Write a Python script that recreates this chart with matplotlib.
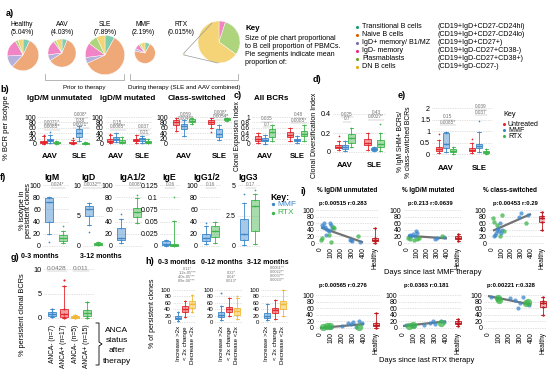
import matplotlib
matplotlib.use("Agg")
import matplotlib.pyplot as plt
from matplotlib.colors import to_rgba
from matplotlib.patches import Wedge

plt.rcParams["font.family"] = ["Liberation Sans", "DejaVu Sans"]

W, H = 553, 377

# ---------------------------------------------------------------------------
# Data
# ---------------------------------------------------------------------------

CELL_TYPES = ["Transitional B cells", "Naive B cells", "IgD+ memory/ B1/MZ",
              "IgD- memory", "Plasmablasts", "DN B cells"]
CELL_MARKERS = ["(CD19+IgD+CD27-CD24hi)", "(CD19+IgD+CD27-CD24lo)", "(CD19+IgD+CD27+)",
                "(CD19+IgD-CD27+CD38-)", "(CD19+IgD-CD27+CD38+)", "(CD19+IgD-CD27-)"]
PIE_NAMES = ["Healthy", "AAV", "SLE", "MMF", "RTX"]
PIE_PCT = ["5.04", "4.03", "7.89", "2.19", "0.015"]
PIE_HEALTHY = [7, 55, 12, 18, 3, 5]
PIE_AAV = [6, 60, 7, 17, 3, 7]
PIE_SLE = [8, 60, 5, 12, 8, 7]
PIE_MMF = [8, 70, 4, 8, 3, 7]
PIE_RTX = [0, 0, 0, 5, 30, 65]

GROUPS = ["AAV", "SLE"]
TREATMENTS = ["Untreated", "MMF", "RTX"]

# box stats (low whisker, q1, median, q3, high whisker): Untreated, MMF, RTX
UNMUT_AAV = [(0, 3, 7, 12, 30), (2, 10, 15, 20, 35), (0, 2, 4, 6, 10)]
UNMUT_SLE = [(0, 2, 5, 9, 15), (10, 25, 42, 55, 68), (0, 1, 2, 4, 6)]
UNMUT_OUT = [[[35], [45], []], [[22], [], []]]
UNMUT_P = [["0.0071*", "0.0085*"], ["0.008*", "0.38", "0.0021*"]]

MUT_AAV = [(3, 8, 12, 18, 35), (8, 15, 20, 25, 42), (2, 5, 9, 14, 25)]
MUT_SLE = [(5, 10, 14, 20, 35), (5, 12, 18, 22, 30), (2, 5, 8, 12, 18)]
MUT_OUT = [[[38], [], []], [[], [], []]]
MUT_P = [["0.15", "0.0065*"], ["0.037", "0.21"]]

CS_AAV = [(50, 72, 80, 88, 98), (30, 55, 65, 75, 88), (75, 82, 87, 92, 98)]
CS_SLE = [(60, 75, 82, 88, 95), (15, 25, 38, 55, 70), (85, 88, 92, 95, 98)]
CS_OUT = [[[], [], []], [[45], [], []]]
CS_P = [["0.059", "0.0046*"], ["0.008*", "0.0054*"]]

CEI_AAV = [(0.05, 0.12, 0.2, 0.28, 0.4), (0.0, 0.1, 0.15, 0.22, 0.35), (0.1, 0.25, 0.45, 0.55, 0.7)]
CEI_SLE = [(0.1, 0.25, 0.35, 0.45, 0.6), (0.05, 0.1, 0.15, 0.2, 0.3), (0.1, 0.28, 0.38, 0.5, 0.7)]
CEI_OUT = [[[], [], []], [[], [], []]]
CEI_P = [["0.035", "0.7"], ["0.48", "0.0085*"]]

CDI_AAV = [(0.02, 0.04, 0.05, 0.07, 0.12), (0.01, 0.03, 0.05, 0.07, 0.12), (0.05, 0.1, 0.15, 0.19, 0.25)]
CDI_SLE = [(0.02, 0.07, 0.1, 0.14, 0.2), (0.01, 0.02, 0.03, 0.04, 0.05), (0.01, 0.05, 0.08, 0.13, 0.2)]
CDI_OUT = [[[0.17], [], []], [[], [], [0.29]]]
CDI_P = [["0.025", "0.7"], ["0.43", "0.0027*"]]

RATIO_AAV = [(0.05, 0.12, 0.2, 0.3, 0.6), (0.1, 0.25, 0.45, 0.9, 0.95), (0.02, 0.08, 0.12, 0.2, 0.3)]
RATIO_SLE = [(0.05, 0.12, 0.18, 0.25, 0.5), (0.1, 0.25, 0.35, 0.45, 0.95), (0.0, 0.05, 0.08, 0.12, 0.2)]
RATIO_OUT = [[[0.85], [], []], [[0.65], [1.45], []]]
RATIO_P = [["0.15", "0.0085*"], ["0.039", "0.037"]]

F_TITLES = ["IgM", "IgD", "IgA1/2", "IgE", "IgG1/2", "IgG3"]
F_MMF = [(20, 40, 72, 78, 80), (3.5, 5, 6, 6.5, 7), (5, 10, 13, 30, 45),
         (0, 0.002, 0.005, 0.01, 0.012), (3, 8, 13, 20, 32), (0.1, 0.5, 1, 2.2, 3.5)]
F_RTX = [(5, 8, 13, 18, 25), (0.1, 0.2, 0.3, 0.45, 0.6), (38, 48, 55, 62, 78),
         (0, 0.001, 0.003, 0.005, 0.052), (5, 15, 24, 33, 40), (0.2, 1.2, 3.3, 3.8, 4.3)]
F_MMF_OUT = [[7], [2.3], [52], [], [38], [4.3]]
F_RTX_OUT = [[32], [], [83], [0.1], [], [4.6]]
F_P = ["0.024*", "0.0032**", "0.008*", "0.26", "0.16", "0.17"]
F_YTICKS = [[0, 20, 40, 60, 80, 100], [0, 5, 10], [0, 20, 40, 60, 80, 100],
            [0, 0.025, 0.05, 0.075, 0.1, 0.125], [0, 20, 40, 60, 80, 100], [0, 2.5, 5]]

G_PERIODS = ["0-3 months", "3-12 months"]
G_LABELS = ["ANCA- (n=7)", "ANCA+ (n=17)", "ANCA- (n=5)", "ANCA+ (n=15)"]
G_STATS = [(0.2, 0.5, 0.8, 1.2, 1.8), (0, 0.3, 0.8, 1.8, 6.5), (0, 0.1, 0.3, 0.4, 0.6), (0.1, 0.5, 1.0, 1.6, 3.2)]
G_OUT = [[], [7.8], [], []]
G_P = ["0.0428", "0.011"]

H_PERIODS = ["0-3 months", "0-12 months", "3-12 months"]
H_CATS = ["Increase >2x", "< 2x change", "Decrease <2x"]
H_03 = [(2, 8, 12, 18, 30), (15, 30, 40, 50, 65), (30, 45, 55, 65, 85)]
H_012 = [(5, 15, 22, 30, 50), (20, 32, 40, 48, 75), (10, 22, 35, 45, 75)]
H_312 = [(5, 12, 18, 28, 55), (10, 28, 38, 45, 68), (20, 40, 55, 65, 100)]
H_OUT = [[[], [], []], [[90], [], [80]], [[], [], []]]
H_P = [["0.11*", "1.2e-05***", "4.0e-05***", "8.9e-06***"],
       ["0.22*", "0.04*", "0.013*"],
       ["0.0051**", "0.0022**", "0.0037**", "0.0023**"]]

I_TITLES = ["% IgD/M unmutated", "% IgD/M mutated", "% class-switched"]
I_MMF_P = ["p:0.00515 r:0.283", "p:0.213 r:0.0639", "p:0.00453 r:0.29"]
I_RTX_P = ["p:0.00565 r:0.276", "p:0.0363 r:0.181", "p:0.00221 r:0.328"]
I_MMF_FIT = [(48, -0.115), (22, -0.02), (36, 0.13)]      # intercept, slope
I_RTX_FIT = [(0, 0.03), (6, 0.035), (97, -0.065)]
I_HEALTHY = [(0, 5, 8, 14, 45), (5, 12, 15, 20, 28), (40, 65, 75, 82, 95)]

I_MMF_BLUE_DAYS = [[20, 30, 40, 50, 55, 60, 70, 80, 90, 100, 110, 280, 290, 300, 370],
                   [20, 30, 40, 60, 80, 90, 100, 280, 300, 370],
                   [20, 30, 40, 50, 60, 70, 80, 90, 100, 280, 300, 370]]
I_MMF_BLUE_VALS = [[55, 50, 60, 48, 25, 42, 38, 35, 60, 55, 45, 10, 8, 5, 2],
                   [20, 25, 22, 28, 22, 35, 30, 12, 15, 18],
                   [20, 25, 30, 40, 45, 35, 60, 30, 40, 80, 90, 85]]
I_MMF_GREEN_DAYS = [[10, 20, 80, 100, 120, 130, 350],
                    [10, 30, 70, 100, 120, 350],
                    [10, 20, 50, 80, 100, 120, 350]]
I_MMF_GREEN_VALS = [[10, 15, 25, 3, 50, 45, 20],
                    [15, 12, 10, 12, 15, 20],
                    [75, 65, 55, 20, 85, 35, 60]]
I_RTX_BLUE_DAYS = [[50, 80, 100, 200, 250, 280, 300, 330, 350, 380],
                   [30, 80, 100, 200, 250, 280, 300, 350, 380],
                   [30, 80, 200, 250, 280, 300, 330, 380]]
I_RTX_BLUE_VALS = [[2, 3, 4, 5, 15, 12, 18, 3, 20, 15],
                   [8, 10, 5, 8, 15, 22, 12, 22, 18],
                   [95, 90, 92, 85, 60, 75, 95, 70]]
I_RTX_GREEN_DAYS = [[30, 60, 90, 350], [60, 90, 350], [90, 100, 350, 370]]
I_RTX_GREEN_VALS = [[2, 5, 5, 4], [5, 10, 15], [90, 85, 75, 80]]

# ---------------------------------------------------------------------------
# Styling
# ---------------------------------------------------------------------------

PIE_COLORS = ["#7fcdb1", "#efa878", "#b6b0da", "#f184c4", "#aed47e", "#f4d477"]
DOT_COLORS = ["#1b9e77", "#d95f02", "#7570b3", "#e7298a", "#66a61e", "#e6ab02"]
RED, BLUE, GREEN, YELLOW = "#e3262c", "#3d87cb", "#3db54a", "#f2b935"
TRIO = [RED, BLUE, GREEN]

fig = plt.figure(figsize=(W / 100, H / 100), dpi=100)
cv = fig.add_axes([0, 0, 1, 1])
cv.set_xlim(0, W)
cv.set_ylim(H, 0)
cv.axis("off")


def txt(x, y, s, size=5.0, weight="normal", ha="center", va="center", color="black", rot=0):
    cv.text(x, y, s, fontsize=size, fontweight=weight, ha=ha, va=va, color=color,
            rotation=rot, rotation_mode="anchor" if rot else "default")


def sig(x, y, s, size=3.4):
    txt(x, y, s, size=size, color="#707070")
    w = len(s) * size * 0.7
    cv.plot([x - w / 2, x + w / 2], [y + size * 0.75] * 2, color="#a0a0a0", lw=0.3)


def data_ax(xmap, ymap, xlim, ylim):
    """Axes placed so that data values land on given pixel positions."""
    (xa, va), (xb, vb) = xmap
    sx = (xb - xa) / (vb - va)
    left, right = xa + (xlim[0] - va) * sx, xa + (xlim[1] - va) * sx
    (ya, ua), (yb, ub) = ymap
    sy = (yb - ya) / (ub - ua)
    top, bottom = ya + (ylim[1] - ua) * sy, ya + (ylim[0] - ua) * sy
    ax = fig.add_axes([left / W, 1 - bottom / H, (right - left) / W, (bottom - top) / H])
    ax.set_xlim(xlim)
    ax.set_ylim(ylim)
    ax.set_facecolor("none")
    for s in ax.spines.values():
        s.set_visible(False)
    ax.tick_params(length=0, pad=1.5)
    return ax


def yaxis_style(ax, ticks, size=5.0):
    ax.set_yticks(ticks)
    ax.set_yticklabels([f"{t:g}" for t in ticks], fontsize=size)
    ax.grid(axis="y", ls=(0, (1, 1.5)), color="#c4c4c4", lw=0.5)
    ax.set_axisbelow(True)


def draw_boxes(ax, pos, stats, colors, width, outs=None, alpha=0.45, dot=1.5):
    for i, (p, st, c) in enumerate(zip(pos, stats, colors)):
        lo, q1, med, q3, hi = st
        ax.bxp([dict(whislo=lo, q1=q1, med=med, q3=q3, whishi=hi, fliers=[])],
               positions=[p], widths=width, patch_artist=True, showfliers=False,
               manage_ticks=False,
               boxprops=dict(facecolor=to_rgba(c, alpha), edgecolor=c, lw=0.6),
               medianprops=dict(color=c, lw=0.9), whiskerprops=dict(color=c, lw=0.6),
               capprops=dict(color=c, lw=0.6))
        pts = [lo, q1, med, q3, hi] + (outs[i] if outs else [])
        ax.scatter([p] * len(pts), pts, s=dot, color=c, lw=0, zorder=3)


def trio_panel(xmap, ymap, ylim, ticks, aav, sle, outs, pvals, p_y, lab_pad,
               xlim=(-0.4, 1.38), tick_size=5.0):
    ax = data_ax(xmap, ymap, xlim, ylim)
    yaxis_style(ax, ticks, size=tick_size)
    spacing = xmap[1][0] - xmap[0][0]
    for g, stats in enumerate([aav, sle]):
        pos = [g + (k - 1) * 0.22 for k in range(3)]
        draw_boxes(ax, pos, stats, TRIO, 6.3 / spacing, outs[g])
        for j, s in enumerate(pvals[g]):
            sig(xmap[0][0] + g * spacing + 2, p_y[g] + 5 * j, s)
    ax.set_xticks([0, 1])
    ax.set_xticklabels(GROUPS, fontsize=5.6, fontweight="bold")
    ax.tick_params(axis="x", pad=lab_pad)
    return ax


# ---------------------------------------------------------------------------
# a) pies
# ---------------------------------------------------------------------------

def draw_pie(cx, cy, r, vals):
    a = -90.0
    tot = float(sum(vals))
    for v, c in zip(vals, PIE_COLORS):
        if v <= 0:
            continue
        span = 360.0 * v / tot
        cv.add_patch(Wedge((cx, cy), r, a, a + span, facecolor=c, edgecolor="white", lw=0.3))
        a += span


txt(10, 13, "a)", size=6.5, weight="bold")
pie_cx, pie_cy, title_x = [23, 62, 105, 145, 184], [55, 53, 55, 53, 54], [22, 62, 105, 143, 181]
for name, pct, vals, cx, cy, tx in zip(PIE_NAMES, PIE_PCT,
                                       [PIE_HEALTHY, PIE_AAV, PIE_SLE, PIE_MMF, PIE_RTX],
                                       pie_cx, pie_cy, title_x):
    draw_pie(cx, cy, max(7.0 * float(pct) ** 0.5, 1.4), vals)
    txt(tx, 24, name, size=4.8)
    txt(tx, 32, f"({pct}%)", size=4.8)
cv.plot([184, 212], [53, 23], color="#999999", lw=0.5)
cv.plot([184, 218], [55, 63], color="#999999", lw=0.5)
draw_pie(219, 42, 21, PIE_RTX)

cv.plot([45, 45, 124, 124], [74, 80, 80, 74], color="#aaaaaa", lw=0.6)
cv.plot([130, 130, 238, 238], [74, 80, 80, 74], color="#aaaaaa", lw=0.6)
txt(84, 88, "Prior to therapy", size=4.5)
txt(184, 88, "During therapy (SLE and AAV combined)", size=4.5)

txt(245, 29, "Key", size=5.8, weight="bold", ha="left")
for k, line in enumerate(["Size of pie chart proportional", "to B cell proportion of PBMCs.",
                          "Pie segments indicate mean", "proportion of:"]):
    txt(245, 38 + 8 * k, line, size=5.1, ha="left")
for k, (ct, mk, dc) in enumerate(zip(CELL_TYPES, CELL_MARKERS, DOT_COLORS)):
    y = 27 + 7.9 * k
    cv.scatter([357], [y], s=5, color=dc, lw=0)
    txt(362, y, ct, size=5.1, ha="left")
    txt(438, y, mk, size=5.1, ha="left")

# ---------------------------------------------------------------------------
# b) c) d) e)
# ---------------------------------------------------------------------------

txt(5, 90, "b)", size=6.5, weight="bold")
txt(7, 128, "% BCR per isotype", size=5.5, rot=90)
b_ymap = ((144, 0), (117, 100))
b_ticks = [0, 20, 40, 60, 80, 100]
txt(60, 98, "IgD/M unmutated", size=5.8, weight="bold")
trio_panel(((50, 0), (79, 1)), b_ymap, (-8, 106), b_ticks, UNMUT_AAV, UNMUT_SLE, UNMUT_OUT,
           UNMUT_P, (122, 115), 5)
txt(128, 98, "IgD/M mutated", size=5.8, weight="bold")
trio_panel(((116, 0), (142, 1)), b_ymap, (-8, 106), b_ticks, MUT_AAV, MUT_SLE, MUT_OUT,
           MUT_P, (122, 127), 5)
txt(197, 98, "Class-switched", size=5.8, weight="bold")
trio_panel(((184, 0), (219, 1)), b_ymap, (-8, 106), b_ticks, CS_AAV, CS_SLE, CS_OUT,
           CS_P, (114, 112), 5)

txt(238, 96, "c)", size=6.5, weight="bold")
txt(271, 98, "All BCRs", size=5.8, weight="bold")
txt(237.5, 136, "Clonal Expansion Index", size=4.8, rot=90)
trio_panel(((265, 0), (297, 1)), ((144, 0), (117, 1)), (-0.08, 1.06),
           [0, 0.2, 0.4, 0.6, 0.8, 1], CEI_AAV, CEI_SLE, CEI_OUT, CEI_P, (119, 115), 5,
           xlim=(-0.4, 1.38), tick_size=4.7)

txt(317, 80, "d)", size=6.5, weight="bold")
txt(315, 135, "Clonal Diversification Index", size=5.0, rot=90)
trio_panel(((345, 0), (374, 1)), ((152, 0), (114, 0.4)), (-0.02, 0.42),
           [0, 0.2, 0.4], CDI_AAV, CDI_SLE, CDI_OUT, CDI_P, (114, 112), 6,
           xlim=(-0.42, 1.4), tick_size=5.2)

txt(402, 96, "e)", size=6.5, weight="bold")
txt(401, 142, "% IgM SHM+ BCRs/", size=4.9, rot=90)
txt(408, 142, "% class-switched BCRs", size=4.9, rot=90)
trio_panel(((446, 0), (479, 1)), ((154, 0), (108, 2)), (-0.12, 2.08),
           [0, 0.5, 1, 1.5, 2], RATIO_AAV, RATIO_SLE, RATIO_OUT, RATIO_P, (117, 107), 6,
           xlim=(-0.42, 1.38), tick_size=5.2)

txt(503, 114, "Key", size=5.3, ha="left")
for k, (t, c) in enumerate(zip(TREATMENTS, TRIO)):
    cv.scatter([504], [124 + 6 * k], s=5, color=c, lw=0)
    txt(508, 124 + 6 * k, t, size=5.0, ha="left")

# ---------------------------------------------------------------------------
# f) isotypes in persistent clones
# ---------------------------------------------------------------------------

txt(3, 177, "f)", size=6.5, weight="bold")
txt(22, 210, "% isotype in", size=5.3, rot=90)
txt(28, 210, "persistent clones", size=5.3, rot=90)
f_pos = [(49, 63), (89, 98), (121, 137), (166, 174), (206, 215), (244, 255)]
f_title_x = [52, 88, 133, 169, 207, 248]
f_p_x = [58, 92.5, 136, 170, 211, 251]
for i, title in enumerate(F_TITLES):
    (pb, pg), ymax = f_pos[i], F_YTICKS[i][-1]
    spacing = pg - pb
    ax = data_ax(((pb, 0), (pg, 1)), ((246, 0), (185, ymax)),
                 (-6.0 / spacing, 1 + 6.0 / spacing), (-0.04 * ymax, 1.04 * ymax))
    yaxis_style(ax, F_YTICKS[i], size=5.0)
    ax.set_xticks([])
    draw_boxes(ax, [0, 1], [F_MMF[i], F_RTX[i]], [BLUE, GREEN], 8.0 / spacing,
               [F_MMF_OUT[i], F_RTX_OUT[i]])
    txt(f_title_x[i], 177, title, size=6.3, weight="bold")
    sig(f_p_x[i], 185, F_P[i], size=3.4)

txt(270, 197, "Key:", size=6.3, weight="bold", ha="left")
for k, (t, c) in enumerate(zip(["MMF", "RTX"], [BLUE, GREEN])):
    cv.scatter([273], [204 + 9 * k], s=6, color=c, lw=0)
    txt(277, 204 + 9 * k, t, size=6.0, ha="left", color=c)

# ---------------------------------------------------------------------------
# g) persistent clonal BCRs by ANCA status
# ---------------------------------------------------------------------------

txt(15, 258, "g)", size=6.5, weight="bold")
txt(40, 257, G_PERIODS[0], size=5.0, weight="bold")
txt(101, 257, G_PERIODS[1], size=5.0, weight="bold")
txt(23, 315, "% persistent clonal BCRs", size=5.3, rot=90)
ax = data_ax(((52, 0), (87, 3)), ((318, 0), (269, 10)), (-0.7, 3.6), (-0.8, 11.2))
yaxis_style(ax, [0, 5, 10], size=5.3)
draw_boxes(ax, range(4), G_STATS, [BLUE, RED, YELLOW, GREEN], 0.7, G_OUT, dot=2.5)
ax.set_xticks(range(4))
ax.set_xticklabels(G_LABELS, rotation=90, fontsize=4.8)
ax.tick_params(axis="x", pad=2)
sig(57, 268, G_P[0], size=4.6)
sig(81, 268, G_P[1], size=4.6)
cv.plot([96, 99, 99, 102, 99, 99, 96], [323, 323, 342, 344, 346, 365, 365], color="black", lw=0.6)
for k, word in enumerate(["ANCA", "status", "after", "therapy"]):
    txt(117, 330 + 10.5 * k, word, size=6.0)

# ---------------------------------------------------------------------------
# h) persistent clones by fold change
# ---------------------------------------------------------------------------

txt(150, 261, "h)", size=6.5, weight="bold")
txt(152, 313, "% of persistent clones", size=5.0, rot=90)
h_pos = [(178, 192), (221, 237), (267, 283)]
h_title_x = [177, 222, 268]
h_p_y = [269, 273, 268]
for i, stats in enumerate([H_03, H_012, H_312]):
    p0, p2 = h_pos[i]
    ax = data_ax(((p0, 0), (p2, 2)), ((322, 0), (290, 100)), (-0.7, 2.6), (-6, 106))
    yaxis_style(ax, [0, 20, 40, 60, 80, 100], size=4.3)
    draw_boxes(ax, range(3), stats, [BLUE, RED, YELLOW], 0.75, H_OUT[i], dot=1.8)
    ax.set_xticks(range(3))
    ax.set_xticklabels(H_CATS, rotation=90, fontsize=4.4)
    ax.tick_params(axis="x", pad=1.5)
    txt(h_title_x[i], 262, H_PERIODS[i], size=5.0, weight="bold")
    for j, s in enumerate(H_P[i]):
        txt((p0 + p2) / 2 + 2, h_p_y[i] + 4 * j, s, size=2.8, color="#707070")

# ---------------------------------------------------------------------------
# i) isotype fractions vs days since therapy
# ---------------------------------------------------------------------------

txt(303, 191, "i)", size=6.5, weight="bold")
i_title_x = [347, 428, 510]
row_cfg = [
    dict(ymap=((243, 0), (210, 100)), xmaps=[((320, 0), (363, 400)), ((407, 0), (447, 400)),
                                             ((492, 0), (531, 400))],
         blue=(I_MMF_BLUE_DAYS, I_MMF_BLUE_VALS), green=(I_MMF_GREEN_DAYS, I_MMF_GREEN_VALS),
         fit=I_MMF_FIT, pvals=I_MMF_P, p_y=203, gsize=10, fit_x0=10),
    dict(ymap=((328, 0), (295, 100)), xmaps=[((320, 0), (364, 400)), ((403, 0), (446, 400)),
                                             ((488, 0), (531, 400))],
         blue=(I_RTX_BLUE_DAYS, I_RTX_BLUE_VALS), green=(I_RTX_GREEN_DAYS, I_RTX_GREEN_VALS),
         fit=I_RTX_FIT, pvals=I_RTX_P, p_y=285, gsize=28, fit_x0=0),
]
for i, title in enumerate(I_TITLES):
    txt(i_title_x[i], 191, title, size=4.7, weight="bold")
for cfg in row_cfg:
    for i in range(3):
        ax = data_ax(cfg["xmaps"][i], cfg["ymap"], (-35, 545), (-6, 106))
        yaxis_style(ax, [0, 20, 40, 60, 80, 100], size=5.0)
        a, b = cfg["fit"][i]
        x0 = cfg["fit_x0"]
        ax.plot([x0, 400], [a + b * x0, a + b * 400], color="#5a5a5a", lw=1.6, alpha=0.85,
                solid_capstyle="butt", zorder=2)
        ax.scatter(cfg["blue"][0][i], cfg["blue"][1][i], s=9, color=BLUE, alpha=0.75, lw=0, zorder=3)
        ax.scatter(cfg["green"][0][i], cfg["green"][1][i], s=cfg["gsize"], color=GREEN,
                   alpha=0.75, lw=0, zorder=3)
        draw_boxes(ax, [510], [I_HEALTHY[i]], ["#c0181e"], 60, alpha=0.3, dot=3)
        ax.set_xticks([0, 100, 200, 300, 400, 510])
        ax.set_xticklabels(["0", "100", "200", "300", "400", "Healthy"], rotation=90, fontsize=4.7)
        ax.tick_params(axis="x", pad=1.5)
        txt(cfg["xmaps"][i][0][0] + 23, cfg["p_y"], cfg["pvals"][i], size=4.2, weight="bold")
txt(433, 272, "Days since last MMF therapy", size=5.4)
txt(427, 360, "Days since last RTX therapy", size=5.4)

fig.savefig("out.png", dpi=100)
